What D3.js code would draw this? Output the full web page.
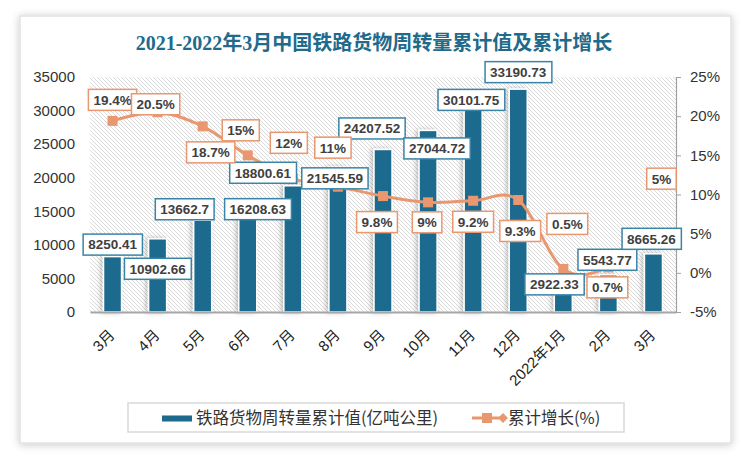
<!DOCTYPE html>
<html><head><meta charset="utf-8">
<script src="https://cdn.jsdelivr.net/npm/d3@7"></script>
<style>
html,body{margin:0;padding:0;background:#fff;}
svg{display:block;}
</style></head>
<body>
<svg id="chart" width="750" height="461"></svg>
<script>
// ---- data ----
const categories = ["3月","4月","5月","6月","7月","8月","9月","10月","11月","12月","2022年1月","2月","3月"];
const values = [8250.41,10902.66,13662.7,16208.63,18800.61,21545.59,24207.52,27044.72,30101.75,33190.73,2922.33,5543.77,8665.26];
const growth = [19.4,20.5,18.7,15,12,11,9.8,9,9.2,9.3,0.5,0.7,5];
const leftTicks = [0,5000,10000,15000,20000,25000,30000,35000];
const rightTicks = [-5,0,5,10,15,20,25];
const titleText = "2021-2022年3月中国铁路货物周转量累计值及累计增长";
const seriesNames = ["铁路货物周转量累计值(亿吨公里)","累计增长(%)"];

// ---- layout (label offsets, px) ----
const valueLabelOffsets = [[0,-12],[0,30],[-18,-11],[10,6],[-30,-13],[-3,11],[-11,-21],[9,18],[-2,-10],[0,-17],[-9,-8],[-1,-15],[-2,-15]];
const growthLabelOffsets = [[0,-21],[-2,-8],[8,26],[-7,-25],[-4,-36],[-5,-39],[-6,26],[-1,20],[0,21],[2,31],[4,-45],[-1,20],[8,-55]];

const BLUE = "#1d6a8d";
const ORANGE = "#e9976f";
const svg = d3.select("#chart");
const defs = svg.append("defs");

const f = defs.append("filter").attr("id","shadow").attr("x","-5%").attr("y","-5%").attr("width","110%").attr("height","110%");
f.append("feDropShadow").attr("dx",0).attr("dy",1).attr("stdDeviation",4).attr("flood-color","#000").attr("flood-opacity",0.22);
const bs = defs.append("filter").attr("id","barshadow").attr("x","-50%").attr("y","-10%").attr("width","200%").attr("height","120%");
bs.append("feDropShadow").attr("dx",-2).attr("dy",0).attr("stdDeviation",2.5).attr("flood-color","#000").attr("flood-opacity",0.25);
const pat = defs.append("pattern").attr("id","hatch").attr("patternUnits","userSpaceOnUse").attr("width",4).attr("height",4);
pat.append("rect").attr("width",4).attr("height",4).attr("fill","#fff");
pat.append("path").attr("d","M-1,-1 L5,5 M-1,3 L1,5 M3,-1 L5,1").attr("stroke","#d0d0d0").attr("stroke-width",0.8);

svg.append("rect").attr("x",20).attr("y",16).attr("width",711).attr("height",427)
  .attr("fill","#fff").attr("stroke","#e2e2e2").attr("stroke-width",1.5).attr("filter","url(#shadow)");

svg.append("text").attr("x",374).attr("y",50).attr("text-anchor","middle")
  .attr("font-family","'Liberation Serif','Noto Sans CJK SC'").attr("font-weight","bold")
  .attr("font-size",20).attr("fill","#216a8b").text(titleText);

const plot = {left:90,right:676,top:77,bottom:312};
const x = d3.scaleBand().domain(d3.range(categories.length)).range([plot.left,plot.right]).paddingInner(0.6).paddingOuter(0.3);
const y = d3.scaleLinear().domain([0,35000]).range([plot.bottom,plot.top]);
const y2 = d3.scaleLinear().domain([-5,25]).range([plot.bottom,plot.top]);
const cx = i => x(i) + x.bandwidth()/2;

svg.append("rect").attr("x",plot.left).attr("y",plot.top).attr("width",plot.right-plot.left).attr("height",plot.bottom-plot.top).attr("fill","url(#hatch)");

svg.append("g").selectAll("rect").data(values).join("rect")
  .attr("x",(d,i)=>x(i)).attr("y",d=>y(d)).attr("width",x.bandwidth()).attr("height",d=>y(0)-y(d))
  .attr("fill",BLUE).attr("stroke","#fff").attr("stroke-width",1.5).attr("filter","url(#barshadow)");

const gl = svg.append("g").attr("transform",`translate(${plot.left},0)`)
  .call(d3.axisLeft(y).tickValues(leftTicks).tickSize(0).tickPadding(15).tickFormat(d3.format("d")));
gl.select(".domain").remove();
gl.selectAll("text").attr("font-family","'Liberation Sans',Arial").attr("font-size",15).attr("fill","#333");

const gr = svg.append("g").attr("transform",`translate(${plot.right},0)`)
  .call(d3.axisRight(y2).tickValues(rightTicks).tickSize(5).tickPadding(9).tickFormat(d=>d+"%"));
gr.select(".domain").attr("stroke","#a0a0a0").attr("stroke-width",1.2);
gr.selectAll("line").attr("stroke","#a0a0a0");
gr.selectAll("text").attr("font-family","'Liberation Sans',Arial").attr("font-size",15).attr("fill","#333");

const gb = svg.append("g").attr("transform",`translate(0,${plot.bottom})`)
  .call(d3.axisBottom(x).tickSize(0).tickFormat(i=>categories[i]));
gb.select(".domain").attr("stroke","#a6a6a6").attr("stroke-width",2);
gb.selectAll("text").attr("font-family","'Liberation Sans','Noto Sans CJK SC'").attr("font-size",15).attr("fill","#222")
  .attr("text-anchor","end").attr("dy",0).attr("y",0)
  .attr("transform","translate(3,24) rotate(-45)");

const line = d3.line().x((d,i)=>cx(i)).y(d=>y2(d)).curve(d3.curveCatmullRom.alpha(0));
svg.append("path").datum(growth).attr("d",line).attr("fill","none").attr("stroke",ORANGE).attr("stroke-width",3);
svg.append("g").selectAll("rect").data(growth).join("rect")
  .attr("x",(d,i)=>cx(i)-5).attr("y",d=>y2(d)-5).attr("width",10).attr("height",10).attr("fill",ORANGE);

function addLabel(g, txt, px, py, stroke){
  const t = g.append("text").attr("x",px).attr("y",py).attr("dy","0.36em").attr("text-anchor","middle")
    .attr("font-family","'Liberation Sans',Arial").attr("font-weight","bold").attr("font-size",13.5).attr("fill","#404040").text(txt);
  const bb = t.node().getBBox();
  g.insert("rect","text").attr("x",bb.x-5).attr("y",py-10.5).attr("width",bb.width+10).attr("height",21)
    .attr("fill","#fff").attr("stroke",stroke).attr("stroke-width",1.5);
  t.raise();
}
const lg = svg.append("g");
values.forEach((v,i)=>{
  addLabel(lg.append("g"), String(v), cx(i)+valueLabelOffsets[i][0], y(v)+valueLabelOffsets[i][1], "#3a84a8");
});
growth.forEach((v,i)=>{
  addLabel(lg.append("g"), v+"%", cx(i)+growthLabelOffsets[i][0], y2(v)+growthLabelOffsets[i][1], ORANGE);
});

const leg = svg.append("g");
leg.append("rect").attr("x",128).attr("y",403).attr("width",496).attr("height",29).attr("fill","#fff").attr("stroke","#d9d9d9").attr("stroke-width",1.5);
leg.append("rect").attr("x",162).attr("y",415.5).attr("width",30).attr("height",6).attr("fill",BLUE);
leg.append("text").attr("x",196).attr("y",418).attr("dy","0.35em").attr("font-family","'Noto Sans CJK SC'").attr("font-size",16.5).attr("fill","#333").text(seriesNames[0]);
leg.append("line").attr("x1",472).attr("x2",503).attr("y1",418).attr("y2",418).attr("stroke",ORANGE).attr("stroke-width",3);
leg.append("rect").attr("x",482).attr("y",413).attr("width",10).attr("height",10).attr("fill",ORANGE);
leg.append("path").attr("d","M498,418 L503,413 L508,418 L503,423 Z").attr("fill",ORANGE);
leg.append("text").attr("x",508).attr("y",418).attr("dy","0.35em").attr("font-family","'Noto Sans CJK SC'").attr("font-size",16.5).attr("fill","#333").text(seriesNames[1]);
</script>
</body></html>
